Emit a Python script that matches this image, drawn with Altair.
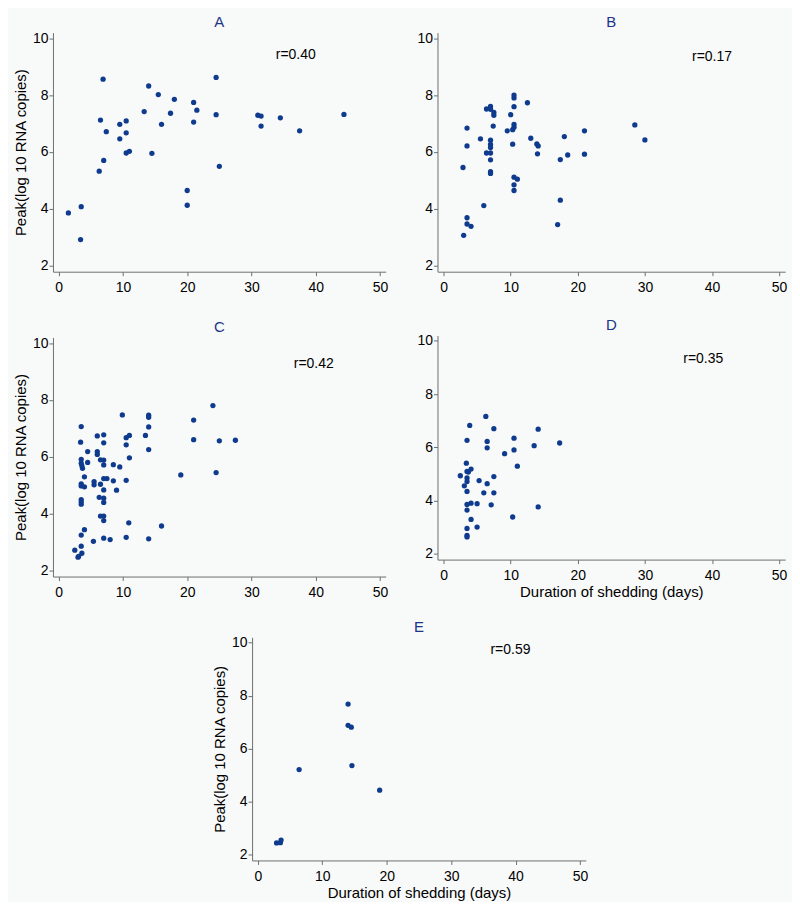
import altair as alt
import pandas as pd

# ---- data ----
a_x = [1.5, 3.5, 3.4, 6.3, 6.5, 6.9, 7.0, 7.4, 9.5, 9.5, 10.5, 10.5, 10.5, 11.0, 13.3, 14.0, 14.5, 15.5, 16.0,
       17.4, 18.0, 20.0, 20.0, 21.0, 21.0, 21.5, 24.5, 24.5, 25.0, 31.0, 31.5, 31.5, 34.5, 37.5, 44.4]
a_y = [3.85, 4.07, 2.91, 5.32, 7.12, 8.56, 5.70, 6.71, 6.97, 6.46, 7.09, 6.67, 5.96, 6.02, 7.42, 8.32, 5.95, 8.02, 6.97,
       7.36, 7.85, 4.64, 4.12, 7.74, 7.05, 7.47, 8.62, 7.31, 5.49, 7.29, 7.26, 6.91, 7.20, 6.74, 7.32]

b_x = [2.9, 3.0, 3.5, 3.5, 3.5, 3.5, 4.1, 5.5, 6.0, 6.4, 7.0, 7.0, 7.5, 7.5, 7.4, 7.0, 7.0, 7.0, 6.4, 7.0, 7.0, 7.0,
       7.0, 9.5, 10.0, 10.5, 10.5, 10.5, 10.5, 10.5, 10.3, 10.3, 10.5, 11.0, 10.5, 10.5, 12.5, 13.0, 13.9, 14.1,
       14.0, 17.0, 17.4, 17.4, 18.0, 18.5, 21.0, 21.0, 28.5, 30.0]
b_y = [5.45, 3.06, 6.84, 6.21, 3.68, 3.46, 3.38, 6.46, 4.11, 7.51, 7.60, 7.50, 7.39, 7.29, 6.91, 6.41, 6.26, 6.15,
       5.96, 5.96, 5.72, 5.30, 5.24, 6.74, 7.31, 8.00, 7.90, 7.59, 6.97, 6.87, 6.78, 6.27, 5.11, 5.04, 4.84, 4.64,
       7.73, 6.48, 6.28, 6.21, 5.93, 3.44, 4.30, 5.73, 6.54, 5.89, 6.74, 5.92, 6.95, 6.42]

c_x = [2.5, 3.0, 3.1, 3.6, 3.5, 3.5, 4.0, 3.5, 3.4, 3.5, 3.5, 3.7, 3.6, 4.5, 4.5, 4.0, 3.5, 3.5, 4.0, 3.5, 3.5,
       3.5, 5.4, 5.5, 5.5, 6.0, 6.0, 6.0, 6.5, 6.5, 6.3, 6.5, 7.0, 7.0, 7.0, 7.0, 7.0, 7.0, 7.0, 7.0, 7.0, 7.0,
       7.0, 7.5, 8.0, 8.5, 8.5, 9.0, 9.5, 9.9, 10.5, 10.5, 10.5, 10.5, 10.9, 11.0, 11.0, 13.5, 14.0, 14.0, 14.0,
       14.0, 14.0, 16.0, 19.0, 21.0, 21.0, 24.0, 24.5, 25.0, 27.5]
c_y = [2.71, 2.46, 2.49, 2.60, 2.85, 3.24, 3.43, 7.06, 6.51, 5.91, 5.77, 5.59, 5.68, 5.80, 6.18, 5.29, 5.04, 4.97,
       4.94, 4.49, 4.41, 4.33, 3.02, 5.12, 5.01, 6.73, 6.18, 6.08, 5.89, 5.03, 4.57, 3.91, 6.77, 6.49, 5.88, 5.71,
       5.23, 4.83, 4.54, 4.39, 3.91, 3.75, 3.13, 5.23, 3.08, 5.72, 5.15, 4.82, 5.64, 7.47, 3.16, 5.17, 6.42, 6.67,
       3.67, 5.96, 6.75, 6.75, 7.46, 7.39, 7.05, 6.25, 3.11, 3.56, 5.36, 7.29, 6.60, 7.80, 5.44, 6.56, 6.58]

d_x = [2.5, 3.1, 3.4, 3.5, 3.5, 3.5, 3.5, 3.5, 3.5, 3.5, 3.5, 3.5, 3.5, 3.9, 3.7, 4.1, 4.1, 4.1, 5.0, 5.0, 5.3,
       6.0, 6.3, 6.5, 6.5, 6.5, 7.1, 7.5, 7.5, 7.5, 9.1, 10.3, 10.5, 10.5, 11.0, 13.5, 14.1, 14.1, 17.3]
d_y = [4.93, 4.55, 5.40, 6.26, 5.09, 4.85, 4.71, 4.34, 3.85, 3.64, 2.95, 2.69, 2.63, 6.82, 5.07, 5.18, 3.90, 3.29,
       3.88, 3.00, 4.75, 4.29, 7.16, 6.22, 4.63, 5.98, 3.84, 6.70, 4.90, 4.29, 5.76, 3.38, 6.34, 5.90, 5.29, 6.06,
       6.68, 3.76, 6.16]

e_x = [2.9, 3.5, 3.6, 6.4, 14.0, 14.0, 14.5, 14.6, 18.9]
e_y = [2.44, 2.45, 2.55, 5.21, 7.68, 6.88, 6.81, 5.36, 4.43]

panel_names = ["A", "B", "C", "D", "E"]
r_labels = ["r=0.40", "r=0.17", "r=0.42", "r=0.35", "r=0.59"]
r_label_x = [36.9, 40.0, 39.7, 38.7, 39.2]
r_label_y = [9.40, 9.33, 9.27, 9.33, 9.71]

x_ticks = [0, 10, 20, 30, 40, 50]
y_ticks = [2, 4, 6, 8, 10]
x_title = "Duration of shedding (days)"
y_title = "Peak(log 10 RNA copies)"

FONT = "Liberation Sans"
POINT = "#0f3b8e"
TITLE_COL = "#1f3489"
AXIS_COL = "#6e6e6e"


def panel(i, xs, ys, w, h, show_y_title, show_x_title):
    df = pd.DataFrame({"x": xs, "y": ys})
    lab = pd.DataFrame({"x": [r_label_x[i]], "y": [r_label_y[i]], "t": [r_labels[i]]})
    xscale = alt.Scale(domain=[-0.9, 50.9], nice=False, zero=False)
    yscale = alt.Scale(domain=[1.78, 10.2], nice=False, zero=False)
    if show_x_title:
        xaxis = alt.Axis(values=x_ticks, format="d", title=x_title, titlePadding=2)
    else:
        xaxis = alt.Axis(values=x_ticks, format="d", title=None)
    if show_y_title:
        yaxis = alt.Axis(values=y_ticks, format="d", title=y_title, titlePadding=4)
    else:
        yaxis = alt.Axis(values=y_ticks, format="d", title=None)
    pts = alt.Chart(df).mark_circle(size=28, color=POINT, opacity=1).encode(
        x=alt.X("x:Q", scale=xscale, axis=xaxis),
        y=alt.Y("y:Q", scale=yscale, axis=yaxis),
    )
    txt = alt.Chart(lab).mark_text(fontSize=14, font=FONT, color="black", align="center",
                                   baseline="middle").encode(
        x=alt.X("x:Q", scale=xscale),
        y=alt.Y("y:Q", scale=yscale),
        text="t:N",
    )
    return alt.layer(pts, txt).properties(
        width=w, height=h,
        title=alt.TitleParams(text=panel_names[i], fontSize=15, fontWeight="normal",
                              color=TITLE_COL, font=FONT, offset=1, anchor="middle"),
    )


A = panel(0, a_x, a_y, 334, 240, True, False)
B = panel(1, b_x, b_y, 349, 240, False, False)
C = panel(2, c_x, c_y, 334, 240, True, False)
D = panel(3, d_x, d_y, 349, 225, False, True)
E = panel(4, e_x, e_y, 335, 224, True, True)

col1 = alt.vconcat(A, C, spacing=25)
col2 = alt.vconcat(B, D, spacing=23)
top = alt.hconcat(col1, col2, spacing=29)
chart = alt.vconcat(top, E, spacing=20, center=True).properties(
    background="#f8f9f9",
    padding={"left": 5, "top": 5, "right": 5, "bottom": 0},
).configure_view(stroke=None).configure_axis(
    domainColor=AXIS_COL, tickColor=AXIS_COL, tickSize=4, grid=False,
    labelColor="black", labelFont=FONT, labelFontSize=14,
    titleFont=FONT, titleFontSize=15, titleFontWeight="normal", titleColor="black",
).configure_axisY(labelPadding=1).configure_axisX(labelPadding=5)

chart.save("out.html", embed_options={"renderer": "svg", "actions": False})
